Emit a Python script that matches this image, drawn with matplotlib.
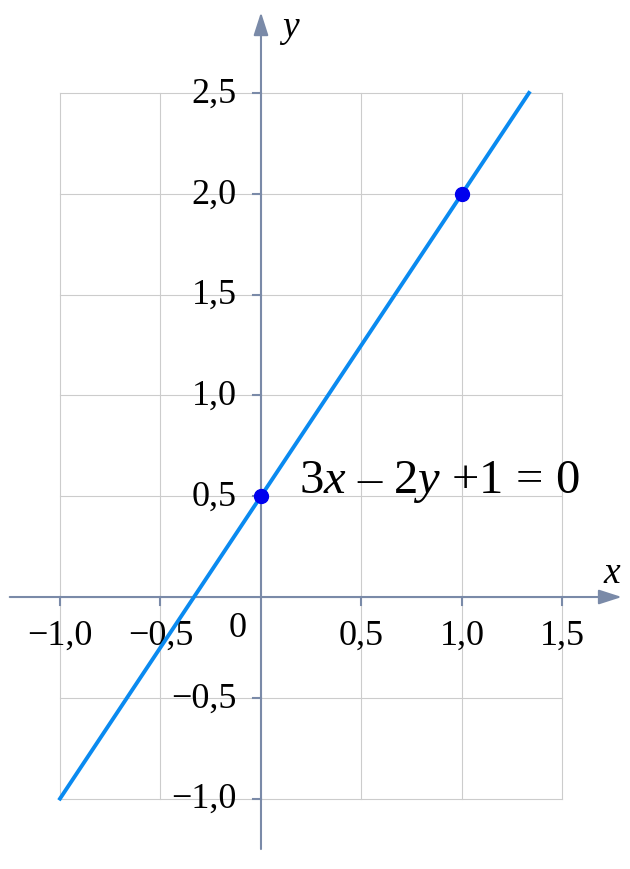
import numpy as np
import matplotlib.pyplot as plt

plt.rcParams['font.family'] = ['Liberation Serif', 'DejaVu Serif']
plt.rcParams['mathtext.fontset'] = 'custom'
plt.rcParams['mathtext.it'] = 'Liberation Serif:italic'
plt.rcParams['mathtext.rm'] = 'Liberation Serif'

# line 3x - 2y + 1 = 0  ->  y = 1.5x + 0.5
line_x = [-1.0, 4 / 3]
line_y = [-1.0, 2.5]
point_x = [0.0, 1.0]
point_y = [0.5, 2.0]
x_ticks = [-1.0, -0.5, 0.5, 1.0, 1.5]
y_ticks = [-1.0, -0.5, 0.5, 1.0, 1.5, 2.0, 2.5]
grid_x = [-1.0, -0.5, 0.0, 0.5, 1.0, 1.5]
grid_y = [-1.0, -0.5, 0.0, 0.5, 1.0, 1.5, 2.0, 2.5]

axis_col = '#7a8aa8'
grid_col = '#cccccc'


def fmt(v):
    return f'{v:.1f}'.replace('.', ',').replace('-', '\u2212')


fig = plt.figure(figsize=(6.3, 8.7), dpi=100)
ax = fig.add_axes([0, 0, 1, 1])
ax.set_xlim(-1.2985, 1.836)
ax.set_ylim(-1.349, 2.966)
ax.axis('off')

# grid
for gx in grid_x:
    ax.plot([gx, gx], [grid_y[0], grid_y[-1]], color=grid_col, lw=0.8, zorder=1)
for gy in grid_y:
    ax.plot([grid_x[0], grid_x[-1]], [gy, gy], color=grid_col, lw=0.8, zorder=1)

# axes with arrows
ax.annotate('', xy=(1.795, 0), xytext=(-1.25, 0),
            arrowprops=dict(arrowstyle='-|>,head_length=1.4,head_width=0.45',
                            color=axis_col, lw=1.5, shrinkA=0, shrinkB=0), zorder=2)
ax.annotate('', xy=(0, 2.9), xytext=(0, -1.25),
            arrowprops=dict(arrowstyle='-|>,head_length=1.4,head_width=0.45',
                            color=axis_col, lw=1.5, shrinkA=0, shrinkB=0), zorder=2)
ax.text(1.75, 0.12, '$x$', fontsize=27, ha='center', va='center')
ax.text(0.145, 2.82, '$y$', fontsize=27, ha='center', va='center')

# ticks and labels
for tx in x_ticks:
    ax.plot([tx, tx], [0, -0.04], color=axis_col, lw=1.5, zorder=2)
    ax.text(tx, -0.19, fmt(tx), fontsize=26, ha='center', va='center')
for ty in y_ticks:
    ax.plot([-0.04, 0], [ty, ty], color=axis_col, lw=1.5, zorder=2)
    ax.text(-0.12, ty, fmt(ty), fontsize=26, ha='right', va='center')
ax.text(-0.114, -0.15, '0', fontsize=26, ha='center', va='center')

# line and points
ax.plot(line_x, line_y, color='#0a8af0', lw=2.8, zorder=3)
ax.scatter(point_x, point_y, s=100, color='#0000ee', zorder=4)
ax.text(0.19, 0.575, '$3x$ \u2013 $2y$ +1 = 0', fontsize=35, ha='left', va='center')

fig.savefig('out.png', dpi=100)
